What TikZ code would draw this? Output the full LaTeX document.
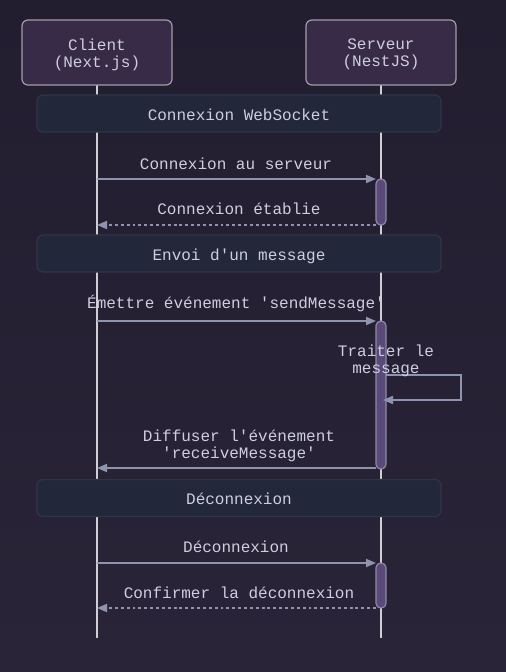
\documentclass[tikz,border=0pt]{standalone}
\usepackage{fontspec}
\setmonofont{Liberation Mono}
\usetikzlibrary{arrows.meta}
\definecolor{bgtop}{HTML}{221D2F}
\definecolor{bgbot}{HTML}{2A2438}
\definecolor{partfill}{HTML}{372B48}
\definecolor{partdraw}{HTML}{A29CAA}
\definecolor{grpfill}{HTML}{222739}
\definecolor{grpdraw}{HTML}{2F3549}
\definecolor{lifecol}{HTML}{D2CED6}
\definecolor{msgcol}{HTML}{8E94B0}
\definecolor{txtcol}{HTML}{CECEE0}
\definecolor{actfill}{HTML}{5A4A7A}
\definecolor{actdraw}{HTML}{9088A8}
\tikzset{
  every node/.style={font=\ttfamily\fontsize{12}{12.75}\selectfont, text=txtcol, inner sep=0pt},
  participant/.style={draw=partdraw, fill=partfill, line width=0.9pt, rounded corners=4.5pt, minimum width=112.5pt, minimum height=48.75pt, align=center},
  group/.style={draw=grpdraw, fill=grpfill, line width=0.9pt, rounded corners=4.5pt, minimum width=303pt, minimum height=27.75pt},
  lifeline/.style={draw=lifecol, line width=1.4pt},
  msg/.style={draw=msgcol, line width=1.4pt, -{Triangle[length=7.5pt,width=6pt]}, color=msgcol},
  reply/.style={msg, dash pattern=on 2.2pt off 2.2pt},
  activation/.style={draw=actdraw, fill=actfill, line width=0.9pt, rounded corners=3.5pt},
  lbl/.style={align=center}
}
\begin{document}
\begin{tikzpicture}[x=0.75pt,y=-0.75pt]
\useasboundingbox (0,0) rectangle (506,672);
\shade[top color=bgtop, bottom color=bgbot] (0,0) rectangle (506,672);

% lifelines
\coordinate (cTop) at (97,85);
\coordinate (cBot) at (97,638);
\coordinate (sTop) at (381,85);
\coordinate (sBot) at (381,638);
\draw[lifeline] (cTop) -- (cBot);
\draw[lifeline] (sTop) -- (sBot);

% participants
\node[participant] (client) at (97,52.5) {};
\node[lbl] (clientT) at (97,54.5) {Client\\(Next.js)};
\node[participant] (server) at (381,52.5) {};
\node[lbl] (serverT) at (381,54.5) {Serveur\\(NestJS)};

% groups
\node[group] (g1) at (239,113.5) {};
\node (g1t) at (239,114.5) {Connexion WebSocket};
\node[group] (g2) at (239,253.5) {};
\node (g2t) at (239,256) {Envoi d'un message};
\node[group] (g3) at (239,498) {};
\node (g3t) at (239,499) {Déconnexion};

% activations
\draw[activation] (376,179) rectangle (386,225);
\draw[activation] (376,321) rectangle (386,469);
\draw[activation] (376,563) rectangle (386,608);

% message 1
\coordinate (m1a) at (97,179);
\coordinate (m1b) at (376,179);
\draw[msg] (m1a) -- (m1b);
\node[lbl] (l1) at (236,164) {Connexion au serveur};

% message 2
\coordinate (m2a) at (376,225);
\coordinate (m2b) at (97,225);
\draw[reply] (m2a) -- (m2b);
\node[lbl] (l2) at (239,209) {Connexion établie};

% message 3
\coordinate (m3a) at (97,321);
\coordinate (m3b) at (376,321);
\draw[msg] (m3a) -- (m3b);
\node[lbl] (l3) at (236,303.5) {Émettre événement 'sendMessage'};

% self message
\coordinate (s1) at (386,375);
\coordinate (s2) at (461,375);
\coordinate (s3) at (461,400);
\coordinate (s4) at (383,400);
\draw[msg] (s1) -- (s2) -- (s3) -- (s4);
\node[lbl] (l4) at (386,361) {Traiter le\\message};

% message 5
\coordinate (m5a) at (376,468);
\coordinate (m5b) at (97,468);
\draw[msg] (m5a) -- (m5b);
\node[lbl] (l5) at (239,446) {Diffuser l'événement\\'receiveMessage'};

% message 6
\coordinate (m6a) at (97,563);
\coordinate (m6b) at (376,563);
\draw[msg] (m6a) -- (m6b);
\node[lbl] (l6) at (236,547) {Déconnexion};

% message 7
\coordinate (m7a) at (376,608);
\coordinate (m7b) at (97,608);
\draw[reply] (m7a) -- (m7b);
\node[lbl] (l7) at (239,593) {Confirmer la déconnexion};
\end{tikzpicture}
\end{document}
